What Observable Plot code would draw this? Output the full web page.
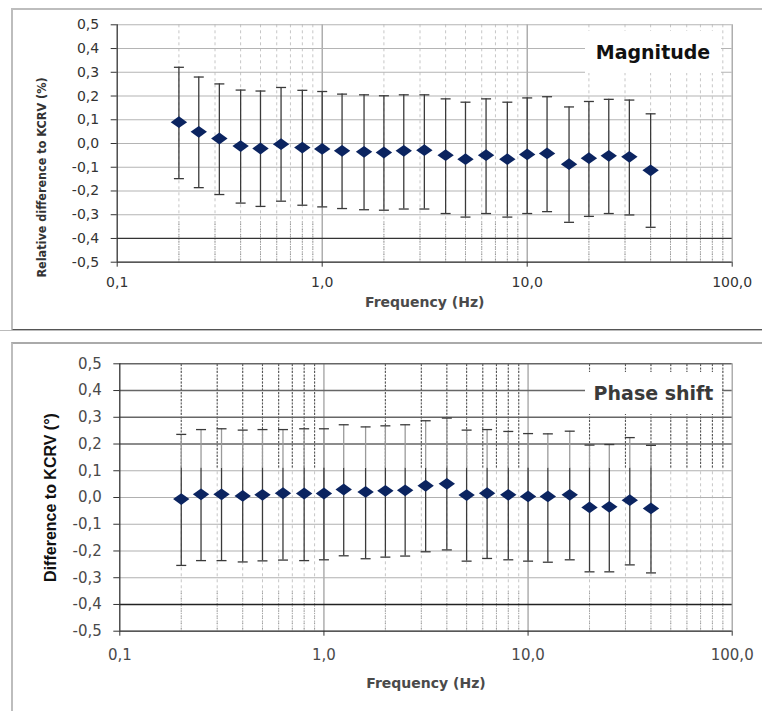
<!DOCTYPE html>
<html>
<head>
<meta charset="utf-8">
<script src="https://cdn.jsdelivr.net/npm/d3@7"></script>
<script src="https://cdn.jsdelivr.net/npm/@observablehq/plot@0.6"></script>
<style>
  html, body { margin: 0; padding: 0; background: #fff; }
  body { width: 762px; height: 711px; position: relative; overflow: hidden; font-family: "DejaVu Sans", sans-serif; }
  .chart { position: absolute; left: 0; }
  .frame { position: absolute; pointer-events: none; background: transparent; }
  .tag { position: absolute; background: #fff; display: flex; align-items: center; justify-content: center;
         font-family: "DejaVu Sans", sans-serif; font-weight: bold; font-size: 19px; }
</style>
</head>
<body>
<div id="top" class="chart" style="top:0px"></div>
<div id="bottom" class="chart" style="top:330px"></div>
<div class="frame" style="left:11px; top:8px; width:760px; height:319px; border-left:2px solid #bdbdbd; border-top:2px solid #bdbdbd; border-bottom:2px solid #555;"></div>
<div class="frame" style="left:0px; top:330px; width:762px; height:0px; border-top:1px solid #bbb;"></div>
<div class="frame" style="left:11px; top:342px; width:760px; height:380px; border-left:2px solid #bdbdbd; border-top:2px solid #aaa;"></div>
<div class="tag" style="left:585px; top:31px; width:136px; height:42px; color:#111;">Magnitude</div>
<div class="tag" style="left:585px; top:372px; width:137px; height:42px; color:#3a3a3a;">Phase shift</div>
<script>
// ---- data ----
const freqs = [0.2, 0.25, 0.315, 0.4, 0.5, 0.63, 0.8, 1, 1.25, 1.6, 2, 2.5, 3.15, 4, 5, 6.3, 8, 10, 12.5, 16, 20, 25, 31.5, 40];

const magValue = [0.090, 0.049, 0.021, -0.011, -0.021, -0.003, -0.017, -0.023, -0.031, -0.035, -0.038, -0.031, -0.028, -0.049, -0.066, -0.049, -0.066, -0.046, -0.042, -0.087, -0.062, -0.052, -0.056, -0.113];
const magUpper = [0.321, 0.280, 0.251, 0.225, 0.221, 0.236, 0.224, 0.219, 0.208, 0.205, 0.201, 0.205, 0.205, 0.188, 0.174, 0.188, 0.174, 0.192, 0.197, 0.154, 0.177, 0.186, 0.183, 0.125];
const magLower = [-0.148, -0.186, -0.215, -0.251, -0.265, -0.243, -0.260, -0.267, -0.274, -0.279, -0.281, -0.276, -0.276, -0.295, -0.310, -0.295, -0.310, -0.295, -0.287, -0.332, -0.307, -0.295, -0.301, -0.353];

const phaseValue = [-0.006, 0.012, 0.012, 0.006, 0.010, 0.016, 0.015, 0.015, 0.030, 0.021, 0.025, 0.027, 0.044, 0.051, 0.009, 0.016, 0.010, 0.004, 0.004, 0.010, -0.037, -0.035, -0.010, -0.041];
const phaseUpper = [0.236, 0.254, 0.257, 0.252, 0.254, 0.254, 0.257, 0.257, 0.272, 0.264, 0.268, 0.272, 0.287, 0.297, 0.252, 0.254, 0.247, 0.239, 0.238, 0.248, 0.196, 0.198, 0.224, 0.195];
const phaseLower = [-0.254, -0.236, -0.236, -0.241, -0.237, -0.234, -0.236, -0.233, -0.218, -0.229, -0.223, -0.219, -0.203, -0.196, -0.238, -0.228, -0.233, -0.238, -0.242, -0.233, -0.278, -0.278, -0.252, -0.282];

const xTicks = [0.1, 1, 10, 100];
const xMinorTicks = [0.2, 0.3, 0.4, 0.5, 0.6, 0.7, 0.8, 0.9, 2, 3, 4, 5, 6, 7, 8, 9, 20, 30, 40, 50, 60, 70, 80, 90];
const yTicks = [-0.5, -0.4, -0.3, -0.2, -0.1, 0, 0.1, 0.2, 0.3, 0.4, 0.5];

const xLabel = "Frequency (Hz)";
const magYLabel = "Relative difference to KCRV (%)";
const phaseYLabel = "Difference to KCRV (°)";

// ---- helpers ----
const commaFmt = d => (+d).toFixed(1).replace(".", ",");
const diamond = {
  draw(ctx, size) {
    const r = Math.sqrt(size / Math.PI);
    ctx.moveTo(0, -r * 0.72);
    ctx.lineTo(r, 0);
    ctx.lineTo(0, r * 0.72);
    ctx.lineTo(-r, 0);
    ctx.closePath();
  }
};
const cap = {
  draw(ctx, size) {
    const r = Math.sqrt(size / Math.PI);
    ctx.moveTo(-r, 0);
    ctx.lineTo(r, 0);
  }
};

function rows(value, upper, lower) {
  return freqs.map((f, i) => ({f, v: value[i], hi: upper[i], lo: lower[i]}));
}

function panel(cfg) {
  const data = rows(cfg.value, cfg.upper, cfg.lower);
  const marks = [
    Plot.ruleX(xMinorTicks, {stroke: "#c6c6c6", strokeDasharray: "3,3", strokeWidth: 1}),
    ...cfg.extraGrid,
    Plot.ruleX([1, 10, 100], {stroke: "#9a9a9a", strokeWidth: 1.2}),
    Plot.ruleY(yTicks, {stroke: d => cfg.gridColor(d), strokeWidth: d => cfg.gridWidth(d)}),
    Plot.ruleX([0.1], {stroke: "#333", strokeWidth: 1.3}),
    Plot.ruleY([-0.5], {stroke: "#333", strokeWidth: 1.3}),
    Plot.axisY({ticks: yTicks, tickFormat: commaFmt, tickSize: 6, tickPadding: cfg.yPad, label: null,
      stroke: "#333", fill: cfg.tickColor, fontSize: cfg.tickFont}),
    Plot.axisX({ticks: xTicks, tickFormat: commaFmt, tickSize: 5, tickPadding: cfg.xPad, label: null,
      stroke: "#333", fill: cfg.tickColor, fontSize: cfg.tickFont}),
    ...cfg.bars(data),
    Plot.dot(data, {x: "f", y: "hi", symbol: cap, r: 5, fill: "none", stroke: "#3a3a3a", strokeWidth: 1.3}),
    Plot.dot(data, {x: "f", y: "lo", symbol: cap, r: 5, fill: "none", stroke: "#3a3a3a", strokeWidth: 1.3}),
    Plot.dot(data, {x: "f", y: "v", symbol: diamond, r: 8.2, fill: "#0b2460", stroke: "none"}),
    Plot.text([cfg.yLabel], {text: d => d, frameAnchor: "left", dx: cfg.yLabelDx, dy: cfg.yLabelDy, rotate: -90,
      textAnchor: "middle", lineAnchor: "middle", fontWeight: "bold", fontFamily: cfg.yLabelFamily,
      fontSize: cfg.yLabelSize, fill: cfg.yLabelColor}),
    Plot.text([xLabel], {text: d => d, frameAnchor: "bottom", dy: cfg.xLabelDy, textAnchor: "middle",
      lineAnchor: "middle", fontWeight: "bold", fontSize: 14, fill: "#4a4a4a"})
  ];
  return Plot.plot({
    width: 762,
    height: cfg.height,
    marginLeft: cfg.ml, marginRight: cfg.mr, marginTop: cfg.mt, marginBottom: cfg.mb,
    style: {background: "none", fontFamily: "DejaVu Sans, sans-serif", fontSize: cfg.tickFont + "px", overflow: "visible"},
    x: {type: "log", domain: [0.1, 100]},
    y: {domain: [-0.5, 0.5]},
    marks
  });
}

// ---- Magnitude panel ----
const magChart = panel({
  value: magValue, upper: magUpper, lower: magLower,
  height: 330, ml: 116.7, mr: 30.3, mt: 24.3, mb: 68.3,
  tickFont: 14, tickColor: "#333", yPad: 12, xPad: 10,
  gridColor: d => d === -0.4 ? "#333" : "#b4b4b4",
  gridWidth: d => d === -0.4 ? 1.3 : 1.1,
  extraGrid: [
    Plot.ruleX(xMinorTicks, {y1: -0.33, y2: -0.5, stroke: "#8a8a8a", strokeDasharray: "1,1.5"})
  ],
  bars: data => [Plot.ruleX(data, {x: "f", y1: "lo", y2: "hi", stroke: "#3a3a3a", strokeWidth: 1.3})],
  yLabel: magYLabel, yLabelDx: -75, yLabelDy: 34,
  yLabelFamily: "Liberation Sans Narrow, DejaVu Sans Condensed, sans-serif", yLabelSize: 12.5, yLabelColor: "#333",
  xLabelDy: 40
});
document.getElementById("top").appendChild(magChart);

// ---- Phase panel ----
const fadeAbove = 0.11;
const phaseChart = panel({
  value: phaseValue, upper: phaseUpper, lower: phaseLower,
  height: 381, ml: 119.3, mr: 30.3, mt: 33.3, mb: 80.3,
  tickFont: 15, tickColor: "#4a4a4a", yPad: 12, xPad: 13,
  gridColor: d => d === -0.4 ? "#222" : (d >= 0.2 ? "#666" : "#b0b0b0"),
  gridWidth: d => d === -0.4 ? 1.6 : (d >= 0.2 ? 1.5 : 1.1),
  extraGrid: [
    Plot.ruleX(xMinorTicks, {y1: fadeAbove, y2: 0.5, stroke: "#555", strokeDasharray: "2,1.5", strokeWidth: 1.1}),
    Plot.ruleX(xMinorTicks, {y1: -0.35, y2: -0.5, stroke: "#999", strokeDasharray: "1,1.5"})
  ],
  bars: data => [
    Plot.ruleX(data, {x: "f", y1: "lo", y2: fadeAbove, stroke: "#3a3a3a", strokeWidth: 1.3}),
    Plot.ruleX(data, {x: "f", y1: fadeAbove, y2: "hi", stroke: "#9a9a9a", strokeWidth: 1.3})
  ],
  yLabel: phaseYLabel, yLabelDx: -69, yLabelDy: 0,
  yLabelFamily: "Liberation Sans, Arial, sans-serif", yLabelSize: 16, yLabelColor: "#111",
  xLabelDy: 52
});
document.getElementById("bottom").appendChild(phaseChart);
</script>
</body>
</html>
